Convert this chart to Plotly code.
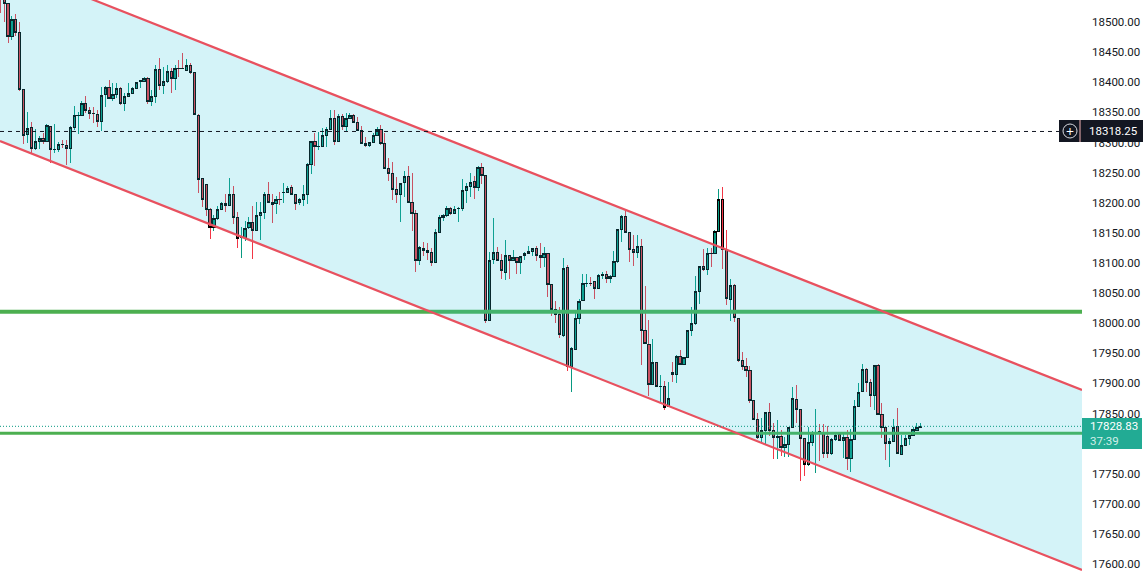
import plotly.graph_objects as go

# prices, bar by bar
opens = [18560, 18545, 18531, 18476.7, 18504.4, 18482.8, 18388.2, 18313.5, 18325.1, 18290.3,
         18301.9, 18306.9, 18301.9, 18326.2, 18288.6, 18288.6, 18296.4, 18295.3, 18290.3, 18325.1,
         18345.1, 18345.1, 18365, 18352.8, 18348.4, 18346.7, 18335.1, 18379.4, 18391.5, 18372.7,
         18379.9, 18389.9, 18364.4, 18376.6, 18381.6, 18389.9, 18402, 18400.9, 18406.5, 18368.3,
         18376.6, 18421.4, 18394.3, 18401.5, 18418.1, 18406.5, 18423.1, 18423.1, 18420.3, 18428,
         18416.4, 18345.1, 18240.5, 18230.5, 18189, 18159.1, 18174.1, 18189, 18199, 18195.7,
         18213.9, 18175.8, 18142.5, 18142.5, 18159.1, 18167.4, 18153.6, 18179, 18184, 18213.9,
         18200.6, 18198.4, 18205.6, 18217.2, 18217.2, 18225.5, 18213.9, 18200.6, 18205.6, 18213.9,
         18263.7, 18301.9, 18293.6, 18293.6, 18311.9, 18321.8, 18340.1, 18301.9, 18343.4, 18326.2,
         18340.1, 18345, 18333.4, 18319.6, 18298.6, 18295.3, 18300.2, 18311.9, 18321.8, 18298.6,
         18257.1, 18248.8, 18222.2, 18213.9, 18233.3, 18243.8, 18200.6, 18182.4, 18104.4, 18124.3,
         18121, 18117.6, 18101, 18150.8, 18175.7, 18179, 18190.7, 18182.4, 18190.7, 18190.7,
         18220.5, 18227.2, 18235.5, 18225.5, 18258.7, 18245.5, 18004.8, 18106, 18117.6, 18103.8,
         18084.4, 18112.7, 18104.4, 18109.3, 18101, 18112.7, 18116, 18119.3, 18124.3, 18112.7,
         18108.8, 18116, 18064.5, 18023, 18014.7, 17979.9, 18092.7, 17927.8, 17956.6, 18008.1,
         18037.9, 18066.2, 18066.6, 18069.5, 18057.3, 18080, 18080.6, 18073.9, 18077.2, 18102.1,
         18155.3, 18177.4, 18150.8, 18122.6, 18117.1, 18127.6, 17988.2, 17964.9, 17898.5, 17935,
         17895.2, 17895.2, 17861.5, 17918.4, 17915.1, 17945, 17931.2, 17942.8, 17988.2, 17999.8,
         18052.9, 18094.4, 18089.4, 18116, 18116, 18152.5, 18205.6, 18122.6, 18039.6, 18062.9,
         18008.1, 17937.8, 17928.4, 17921.8, 17872, 17840.4, 17810, 17822.2, 17852, 17822.2,
         17811, 17811.6, 17793.4, 17798.9, 17827.1, 17873.1, 17857, 17808.9, 17765.2, 17802.2,
         17818.3, 17819.9, 17817.2, 17812.2, 17783.4, 17807.2, 17815.5, 17805.6, 17810.5, 17775.1,
         17807.2, 17862, 17886.9, 17923.4, 17901.8, 17880.2, 17929, 17848.7, 17827.1, 17800.6,
         17803.9, 17828.8, 17781.8, 17796.7, 17808.9, 17813.9, 17822.2, 17827.1]
highs = [18570, 18550, 18532, 18510, 18513.3, 18500, 18388.2, 18350.6, 18334, 18321.8,
         18310.8, 18315.2, 18330.7, 18327.3, 18330.7, 18301.3, 18304.1, 18304.1, 18327.3, 18360.6,
         18350.6, 18368.9, 18377.2, 18359.4, 18358.3, 18353.9, 18392.6, 18393.7, 18403.7, 18398.2,
         18398.2, 18391.5, 18381.6, 18399.3, 18391.5, 18400.9, 18402.4, 18408.1, 18408.1, 18387.1,
         18428.6, 18440.2, 18425.8, 18428, 18423.1, 18428.6, 18436.9, 18449.1, 18438, 18431.4,
         18417.5, 18346.7, 18241.6, 18231.1, 18190.7, 18179.6, 18194.6, 18201.8, 18214.5, 18241,
         18227.8, 18184.6, 18160.3, 18169.1, 18175.8, 18194.6, 18201.2, 18201.8, 18217.8, 18234.4,
         18214.5, 18211.2, 18217.8, 18232.2, 18227.8, 18229.4, 18214.5, 18207.8, 18229.4, 18265.4,
         18303, 18316.3, 18317.9, 18323.5, 18325.1, 18353.9, 18353.9, 18347.3, 18347.3, 18349.5,
         18348.4, 18347.3, 18341.7, 18327.3, 18309.6, 18301.3, 18315.2, 18325.1, 18329.6, 18316.3,
         18273.7, 18267.6, 18242.1, 18233.3, 18252.6, 18260.9, 18248.8, 18187.9, 18128.2, 18134.2,
         18132.6, 18124.3, 18155.8, 18179.6, 18181.3, 18194.6, 18192.3, 18194.6, 18192.3, 18239.4,
         18233.3, 18248.8, 18244.3, 18261.5, 18265.4, 18246, 18117.6, 18174.6, 18126.5, 18114.3,
         18138.1, 18113.8, 18121.5, 18110.4, 18111.5, 18118.7, 18128.2, 18124.8, 18128.2, 18133.7,
         18127, 18117.1, 18065, 18037.4, 18026.3, 18107.7, 18096, 17960, 18016.4, 18039.6,
         18081.7, 18081.7, 18076.1, 18070.6, 18081.7, 18084.4, 18086.1, 18079.5, 18119.8, 18156.4,
         18179.6, 18186.8, 18151.3, 18146.4, 18146.4, 18139.2, 18061.7, 18005.3, 17973.8, 17936.2,
         17914, 17904.1, 17903, 17936.2, 17947.2, 17955.5, 17944.4, 17988.7, 18027.4, 18078.4,
         18095, 18122.6, 18124.3, 18124.3, 18154.7, 18222.8, 18226.1, 18154.7, 18073.4, 18064.5,
         18009.2, 17952.8, 17941.7, 17929, 17872.5, 17850.4, 17842.1, 17852.5, 17868.1, 17833.8,
         17839.3, 17822.7, 17810.5, 17828.2, 17893.5, 17897.4, 17857.5, 17809.4, 17827.1, 17821,
         17857, 17832.1, 17832.1, 17829.3, 17808.9, 17818.3, 17819.4, 17819.4, 17822.7, 17823.8,
         17872.5, 17901.3, 17932.3, 17925, 17906.8, 17930, 17932.3, 17868.1, 17828.2, 17808.9,
         17841, 17858.7, 17814.4, 17814.4, 17814.4, 17827.1, 17833.8, 17833.8]
lows = [18515.5, 18500.5, 18464.6, 18470.1, 18476.7, 18386, 18297.5, 18298.6, 18282, 18287.5,
        18289.7, 18297.5, 18301.3, 18265.4, 18282, 18284.8, 18290.3, 18262.6, 18266.5, 18320.7,
        18314.1, 18344, 18349.5, 18338.4, 18332.9, 18326.2, 18319.6, 18359.4, 18371.6, 18368.3,
        18373.3, 18362.8, 18352.8, 18375.5, 18380.5, 18388.2, 18390.4, 18400.4, 18363.9, 18360.6,
        18365, 18387.1, 18380.5, 18398.2, 18382.7, 18387.1, 18408.1, 18422.7, 18419.2, 18413.7,
        18346.2, 18216.7, 18193.5, 18178, 18140.3, 18153.6, 18171.3, 18187.9, 18184.6, 18194.6,
        18164.7, 18124.9, 18108.2, 18137, 18155.8, 18107.1, 18152.5, 18138.1, 18172.4, 18199,
        18166.9, 18181.3, 18196.2, 18200.1, 18215.6, 18212.8, 18187.9, 18195.7, 18194.6, 18197.9,
        18247.7, 18260.9, 18287.5, 18291.9, 18292.5, 18320.7, 18295.8, 18301.3, 18320.7, 18318.5,
        18338.4, 18331.8, 18318.5, 18297.5, 18291.9, 18293, 18298.6, 18310.7, 18295.8, 18255.4,
        18236.1, 18204.5, 18199, 18168.5, 18210.1, 18199, 18153.6, 18085, 18096.6, 18111.5,
        18104.9, 18095.5, 18099.4, 18150.3, 18169.1, 18176.8, 18179.6, 18181.3, 18168.5, 18186.8,
        18199.5, 18209, 18206.2, 18220, 18231.1, 18000.9, 18004.2, 18098.3, 18102.7, 18073.9,
        18071.7, 18073.4, 18103.3, 18081.7, 18081.7, 18104.9, 18115.4, 18111.5, 18103.3, 18092.2,
        18093.8, 18044, 18012.5, 18000.9, 17976, 17976.5, 17921.2, 17886.4, 17955.5, 17998.7,
        18037.4, 18059.5, 18061.7, 18040.2, 18057, 18072.8, 18066.7, 18066.2, 18076.1, 18100.5,
        18135.3, 18150.3, 18102.1, 18095, 18107.7, 17930.6, 17965.5, 17879.2, 17897.4, 17894.7,
        17867, 17855.9, 17860.3, 17902.4, 17901.3, 17930.6, 17930.1, 17941.7, 17979.3, 17997.6,
        18031.9, 18087.2, 18080, 18092.7, 18114.9, 18151.9, 18090, 18030.2, 18004.2, 18002.5,
        17936.2, 17922.3, 17910.1, 17868.1, 17839.3, 17807.2, 17800.6, 17797.8, 17812.7, 17775.1,
        17775.1, 17779.6, 17778.4, 17778.4, 17825.5, 17834.9, 17738.6, 17746.9, 17762.9, 17796.2,
        17751.9, 17771.8, 17776.2, 17776.8, 17781.8, 17805, 17805, 17776.8, 17756.3, 17753,
        17806.1, 17860.3, 17885.8, 17886.3, 17860.3, 17855.9, 17848.2, 17808.9, 17772.9, 17761.8,
        17803.3, 17782.9, 17780.7, 17796.2, 17797.8, 17812.7, 17821, 17826]
closes = [18540, 18531, 18476.7, 18504.4, 18482.8, 18388.2, 18312.4, 18322.9, 18290.3, 18301.9,
          18306.9, 18301.9, 18328.5, 18288.6, 18289.1, 18296.9, 18296, 18290.3, 18325.1, 18345.1,
          18345.5, 18365, 18352.8, 18348.4, 18348, 18335.1, 18378.3, 18391.5, 18373.3, 18379.9,
          18389.9, 18364.4, 18376.6, 18381.6, 18389.9, 18399.8, 18402.4, 18406.5, 18368.3, 18376.6,
          18421.4, 18394.3, 18401.5, 18418.1, 18406.5, 18423.1, 18422.7, 18422.7, 18428, 18416.4,
          18346.7, 18238.8, 18205.6, 18188.5, 18159.1, 18174.1, 18189, 18199, 18195.7, 18213.9,
          18175.8, 18140.9, 18143, 18157.5, 18167.4, 18153.6, 18179, 18184, 18213.9, 18200.6,
          18196.8, 18205.6, 18205.2, 18217.6, 18223.9, 18213.9, 18198.4, 18205.6, 18213.9, 18263.7,
          18301.9, 18293, 18294, 18311.9, 18321.8, 18340.1, 18301.9, 18343.4, 18326.2, 18340.1,
          18345, 18333.4, 18319.6, 18298.6, 18295.3, 18300.2, 18311.9, 18321.8, 18298.6, 18257.1,
          18248.8, 18222.2, 18213.9, 18232.2, 18243.8, 18200.6, 18182.4, 18104.4, 18126, 18121,
          18117.6, 18101, 18150.8, 18175.7, 18179, 18190.7, 18182.4, 18189, 18191, 18220.5,
          18227.2, 18233.8, 18225.5, 18258.7, 18245.5, 18004.8, 18104.4, 18117.6, 18103.8, 18087.8,
          18112.7, 18104.4, 18109.3, 18101, 18111, 18116, 18119.3, 18124.3, 18112.7, 18108.8,
          18116, 18064.5, 18022.5, 18014.7, 17981, 18091.1, 17927.8, 17958.3, 18008.1, 18036.3,
          18066.2, 18066.6, 18066.2, 18057.3, 18079.5, 18080.4, 18073.9, 18077.8, 18102.7, 18155.3,
          18177.4, 18150.8, 18122.6, 18117.1, 18127.6, 17988.2, 17966, 17898.5, 17935, 17895.2,
          17895.6, 17860.3, 17875.3, 17915.1, 17945, 17931.2, 17943.3, 17988.2, 17999.8, 18052.9,
          18094.4, 18089.4, 18116, 18115.6, 18152.5, 18205.6, 18122.6, 18041.3, 18062.9, 18009.2,
          17937.8, 17928.4, 17921.8, 17871.4, 17840.4, 17810, 17822.2, 17852, 17822.2, 17810,
          17811.4, 17793.4, 17798.9, 17827.1, 17875.3, 17857, 17808.9, 17765.2, 17802.2, 17817.2,
          17818.7, 17817.2, 17783.4, 17783.4, 17807.2, 17813.9, 17805.6, 17810.5, 17775.1, 17807.2,
          17862, 17885.2, 17923.4, 17901.8, 17880.2, 17929, 17848.7, 17827.1, 17800.6, 17803.9,
          17827.1, 17783.4, 17797.3, 17808.9, 17813.9, 17823.8, 17827.1, 17828.83]
bars = list(range(len(closes)))

# 17800 sits behind the last-price tag in the original, so it gets no label
tick_values = [18500, 18450, 18400, 18350, 18300, 18250, 18200, 18150, 18100, 18050, 18000,
               17950, 17900, 17850, 17750, 17700, 17650, 17600]
last_price = 17828.83
cursor_price = 18318.25
countdown = "37:39"
support_levels = [18019, 17817.2]
channel_x = [-0.085, 278.5]
channel_upper = [18598, 17889.1]
channel_lower = [18302.4, 17590.3]

UP = "#089981"
DOWN = "#f23645"
RED_LINE = "#e8515f"
GREEN_LINE = "#4caf50"
TAG_DARK = "#131722"
TAG_GREEN = "#22ab94"

W, H = 1143, 587
PLOT_R = 61
y_range = [17562.1, 18536.5]
body_low = [min(o, c) for o, c in zip(opens, closes)]
body_high = [max(o, c) for o, c in zip(opens, closes)]

fig = go.Figure()

# horizontal levels sit under the channel tint
for level, width in zip(support_levels, [4, 3]):
    fig.add_trace(go.Scatter(x=channel_x, y=[level, level], mode="lines",
                             line=dict(color=GREEN_LINE, width=width), hoverinfo="skip"))

fig.add_trace(go.Scatter(x=channel_x + channel_x[::-1],
                         y=channel_lower + channel_upper[::-1],
                         mode="none", fill="toself", fillcolor="rgba(40,195,220,0.2)",
                         hoverinfo="skip"))
for edge in [channel_upper, channel_lower]:
    fig.add_trace(go.Scatter(x=channel_x, y=edge, mode="lines",
                             line=dict(color=RED_LINE, width=2.2), hoverinfo="skip"))

fig.add_trace(go.Scatter(x=channel_x, y=[cursor_price, cursor_price], mode="lines",
                         line=dict(color="#131722", width=1, dash="4px,4px"), hoverinfo="skip"))
fig.add_trace(go.Scatter(x=channel_x, y=[last_price, last_price], mode="lines",
                         line=dict(color=UP, width=1, dash="1px,2px"), hoverinfo="skip"))

# wicks in the candle colour, then bodies with a black outline on top
fig.add_trace(go.Candlestick(x=bars, open=opens, high=highs, low=lows, close=closes,
                             increasing=dict(line=dict(color=UP, width=1), fillcolor=UP),
                             decreasing=dict(line=dict(color=DOWN, width=1), fillcolor=DOWN),
                             whiskerwidth=0, hoverinfo="skip"))
fig.add_trace(go.Candlestick(x=bars, open=opens, high=body_high, low=body_low, close=closes,
                             increasing=dict(line=dict(color="#000000", width=1), fillcolor=UP),
                             decreasing=dict(line=dict(color="#000000", width=1), fillcolor=DOWN),
                             whiskerwidth=0, hoverinfo="skip"))


def py(pixel):
    return 1 - pixel / H


def px(pixel):
    return pixel / (W - PLOT_R)


shapes = [
    dict(type="rect", xref="paper", yref="paper", x0=px(1059), x1=px(1143), y0=py(120), y1=py(142),
         fillcolor=TAG_DARK, line_width=0, layer="above"),
    dict(type="circle", xref="paper", yref="paper", x0=px(1063), x1=px(1077), y0=py(124), y1=py(138),
         line=dict(color="#d6d8de", width=1), fillcolor=TAG_DARK, layer="above"),
    dict(type="line", xref="paper", yref="paper", x0=px(1080), x1=px(1080), y0=py(120), y1=py(142),
         line=dict(color="#f7b5b5", width=1), layer="above"),
    dict(type="rect", xref="paper", yref="paper", x0=px(1082), x1=px(1142), y0=py(418), y1=py(449),
         fillcolor=TAG_GREEN, line_width=0, layer="above"),
]

annotations = [
    dict(x=px(1070), y=py(131), text="+", font=dict(color="#ffffff", size=14)),
    dict(x=px(1113.5), y=py(131), text=f"{cursor_price:.2f}",
         font=dict(color="#ffffff", size=11.5, family="Roboto")),
    dict(x=px(1113.5), y=py(433.5), align="left",
         text=f"{last_price:.2f}<br><span style='color:#d3efe9'>{countdown}</span>",
         font=dict(color="#ffffff", size=11.5, family="Roboto")),
]
for a in annotations:
    a.update(xref="paper", yref="paper", showarrow=False, xanchor="center", yanchor="middle")

fig.update_layout(
    width=W, height=H,
    margin=dict(l=0, r=PLOT_R, t=0, b=0),
    paper_bgcolor="#ffffff", plot_bgcolor="#ffffff",
    showlegend=False, boxgap=0.18,
    shapes=shapes, annotations=annotations,
    xaxis=dict(range=channel_x, visible=False, rangeslider=dict(visible=False)),
    yaxis=dict(range=y_range, side="right", tickvals=tick_values, tickformat=".2f",
               showgrid=False, zeroline=False, showline=False, ticks="",
               ticklabelstandoff=9, tickfont=dict(color="#131722", size=11.5, family="Roboto")),
)

# no page margin, and snap the candles to whole pixels like the original
page_css = ("document.body.style.margin='0';"
            "var s=document.createElement('style');"
            "s.textContent='.boxlayer path{shape-rendering:crispEdges !important}';"
            "document.head.appendChild(s);")
fig.write_html("out.html", config=dict(displayModeBar=False), post_script=page_css)
